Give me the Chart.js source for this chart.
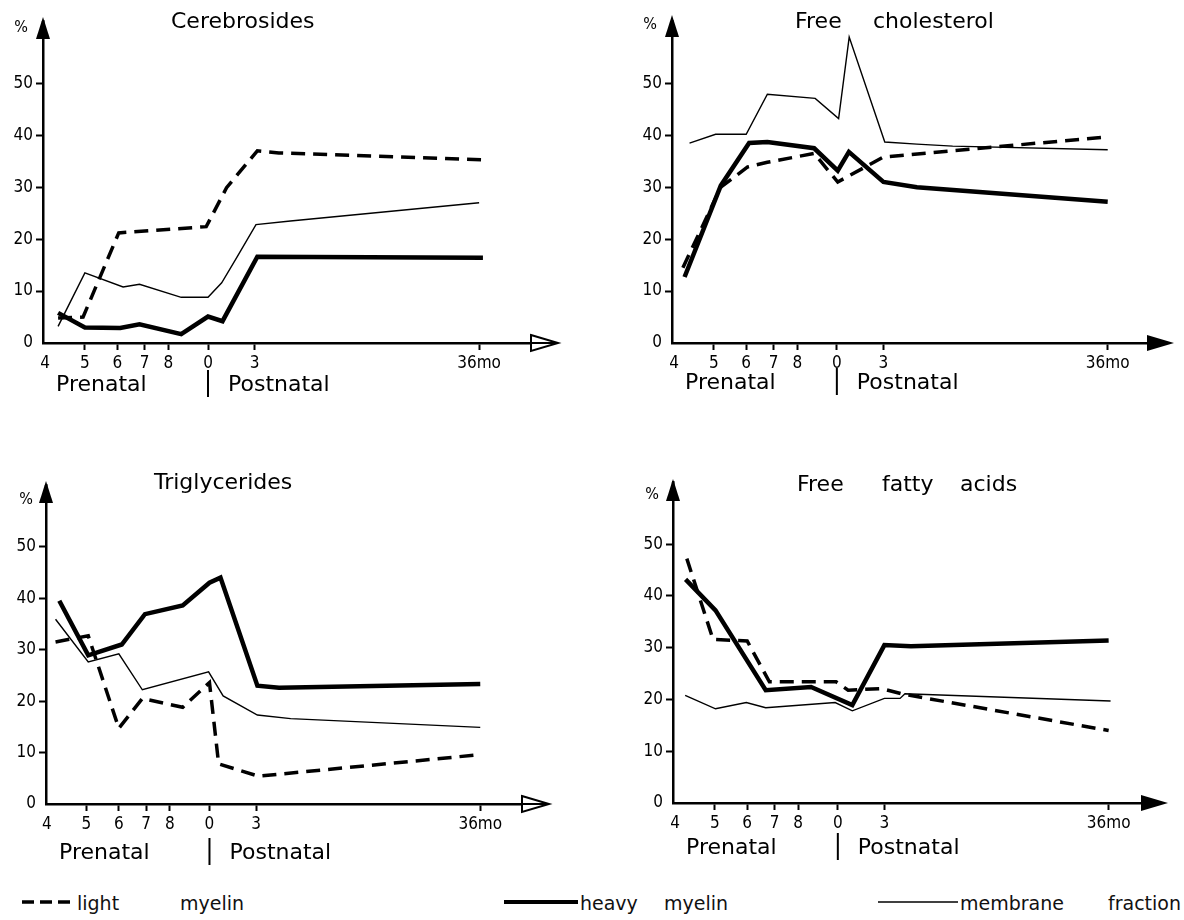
<!DOCTYPE html>
<html>
<head>
<meta charset="utf-8">
<script src="https://cdn.jsdelivr.net/npm/chart.js@4.4.1/dist/chart.umd.min.js"></script>
<style>
  body { margin: 0; background: #fff; width: 1184px; height: 920px; position: relative; overflow: hidden; }
  canvas { position: absolute; }
  .leg { position: absolute; top: 892px; font: 19px 'DejaVu Sans', sans-serif; color: #111; line-height: 22px; white-space: nowrap; }
  .legline { position: absolute; top: 893px; }
</style>
</head>
<body>
<canvas id="c1" width="590" height="430" style="left:0;top:0"></canvas>
<canvas id="c2" width="594" height="430" style="left:590px;top:0"></canvas>
<canvas id="c3" width="590" height="440" style="left:0;top:440px"></canvas>
<canvas id="c4" width="594" height="440" style="left:590px;top:440px"></canvas>

<svg class="legline" style="left:22px" width="52" height="16"><line x1="0" y1="9" x2="52" y2="9" stroke="#000" stroke-width="3.5" stroke-dasharray="12 6"/></svg>
<div class="leg" style="left:77px">light</div><div class="leg" style="left:180px">myelin</div>
<svg class="legline" style="left:504px" width="74" height="16"><line x1="0" y1="9" x2="74" y2="9" stroke="#000" stroke-width="4"/></svg>
<div class="leg" style="left:580px">heavy</div><div class="leg" style="left:664px">myelin</div>
<svg class="legline" style="left:878px" width="80" height="16"><line x1="0" y1="9" x2="80" y2="9" stroke="#000" stroke-width="1.4"/></svg>
<div class="leg" style="left:960px">membrane</div><div class="leg" style="left:1108px">fraction</div>

<script>
// x axis: age in (lunar) months from conception, drawn on a log scale
const tickValues = [4, 5, 6, 7, 8, 10, 13, 46];
const tickLabels = ['4', '5', '6', '7', '8', '0', '3', '36mo'];
const yTickValues = [0, 10, 20, 30, 40, 50];

const seriesNames = ['light myelin', 'heavy myelin', 'membrane fraction'];
const panelTitles = [['Cerebrosides'], ['Free', 'cholesterol'], ['Triglycerides'], ['Free', 'fatty', 'acids']];
const prenatalText = 'Prenatal';
const postnatalText = 'Postnatal';
const unitText = '%';

// Cerebrosides
const cereLightAge = [4.3, 4.95, 6.05, 9.9, 11.1, 13.2, 14.9, 46.5];
const cereLightPct = [4.8, 5.0, 21.2, 22.4, 29.9, 37.0, 36.6, 35.3];
const cereHeavyAge = [4.3, 5.0, 6.1, 6.8, 8.6, 10.0, 10.85, 13.2, 47];
const cereHeavyPct = [5.8, 3.0, 2.9, 3.6, 1.7, 5.1, 4.2, 16.6, 16.4];
const cereMembAge = [4.3, 5.0, 6.2, 6.8, 8.6, 10.0, 10.8, 11.8, 13.1, 15.9, 46];
const cereMembPct = [3.2, 13.5, 10.8, 11.3, 8.8, 8.8, 11.6, 16.7, 22.8, 23.5, 27.0];

// Free cholesterol
const cholLightAge = [4.2, 5.2, 6.05, 6.76, 8.8, 10.05, 13.0, 46];
const cholLightPct = [14.5, 30.0, 33.9, 34.8, 36.5, 31.0, 35.8, 39.7];
const cholHeavyAge = [4.24, 5.2, 6.1, 6.76, 8.8, 10.05, 10.7, 13.0, 15.7, 46];
const cholHeavyPct = [12.7, 30.3, 38.5, 38.7, 37.5, 33.2, 36.8, 31.0, 30.0, 27.2];
const cholMembAge = [4.36, 5.05, 6.0, 6.76, 8.85, 10.1, 10.72, 13.1, 15.7, 19.2, 46];
const cholMembPct = [38.5, 40.2, 40.2, 47.9, 47.1, 43.2, 58.9, 38.7, 38.3, 37.9, 37.2];

// Triglycerides
const trigLightAge = [4.2, 5.05, 6.0, 6.85, 8.6, 10.0, 10.53, 13.2, 46];
const trigLightPct = [31.5, 32.7, 14.7, 20.5, 18.8, 23.6, 7.8, 5.4, 9.6];
const trigHeavyAge = [4.29, 5.05, 6.1, 6.95, 8.6, 10.0, 10.64, 13.1, 14.8, 46];
const trigHeavyPct = [39.5, 28.9, 31.0, 36.9, 38.6, 43.0, 44.0, 23.0, 22.6, 23.3];
const trigMembAge = [4.2, 5.05, 6.0, 6.85, 9.95, 10.8, 13.1, 15.8, 46];
const trigMembPct = [35.9, 27.6, 29.2, 22.2, 25.7, 21.0, 17.3, 16.6, 14.9];

// Free fatty acids
const ffaLightAge = [4.27, 4.95, 6.0, 6.8, 9.9, 10.6, 12.8, 14.5, 46];
const ffaLightPct = [47.2, 31.6, 31.3, 23.4, 23.4, 21.8, 22.1, 21.0, 14.0];
const ffaHeavyAge = [4.24, 5.02, 6.66, 8.6, 10.85, 13.0, 15.1, 46];
const ffaHeavyPct = [43.2, 37.2, 21.8, 22.4, 18.9, 30.5, 30.3, 31.4];
const ffaMembAge = [4.23, 5.02, 5.97, 6.66, 9.85, 10.85, 13.0, 14.2, 14.6, 46.5];
const ffaMembPct = [20.8, 18.2, 19.4, 18.4, 19.4, 17.8, 20.2, 20.2, 21.1, 19.7];

const panelSeries = [
    [[cereLightAge, cereLightPct], [cereHeavyAge, cereHeavyPct], [cereMembAge, cereMembPct]],
    [[cholLightAge, cholLightPct], [cholHeavyAge, cholHeavyPct], [cholMembAge, cholMembPct]],
    [[trigLightAge, trigLightPct], [trigHeavyAge, trigHeavyPct], [trigMembAge, trigMembPct]],
    [[ffaLightAge, ffaLightPct], [ffaHeavyAge, ffaHeavyPct], [ffaMembAge, ffaMembPct]]
];

// where each panel sits on the page (absolute px)
const panelLayout = [
    { id: 'c1', cx: 0, cy: 0, w: 590, h: 430, axisX: 43, top: 21, bottom: 343, right: 531,
      xMin: 3.95, xMax: 61.6, tipY: 17, open: true, titleX: [171], titleY: 22, pctX: 21, pctY: 28, bandY: 385 },
    { id: 'c2', cx: 590, cy: 0, w: 594, h: 430, axisX: 672, top: 21, bottom: 343, right: 1147,
      xMin: 3.95, xMax: 57.4, tipY: 15, open: false, titleX: [795, 873], titleY: 22, pctX: 650, pctY: 25, bandY: 383 },
    { id: 'c3', cx: 0, cy: 440, w: 590, h: 440, axisX: 46, top: 485, bottom: 804, right: 522,
      xMin: 3.98, xMax: 58.2, tipY: 481, open: true, titleX: [154], titleY: 483, pctX: 26, pctY: 500, bandY: 853 },
    { id: 'c4', cx: 590, cy: 440, w: 594, h: 440, axisX: 673, top: 482, bottom: 803, right: 1141,
      xMin: 3.95, xMax: 55.2, tipY: 479, open: false, titleX: [797, 882, 960], titleY: 485, pctX: 652, pctY: 495, bandY: 848 }
];

const styles = [
    { borderWidth: 3.5, borderDash: [14, 8] },
    { borderWidth: 4.5, borderDash: [] },
    { borderWidth: 1.4, borderDash: [] }
];

const tickFont = "'Liberation Sans Narrow', 'DejaVu Sans Condensed', sans-serif";
const textFont = "'DejaVu Sans', sans-serif";

const decor = {
    id: 'decor',
    afterDraw(chart, args, opts) {
        const L = opts.layout;
        const ctx = chart.ctx;
        const area = chart.chartArea;
        const xs = chart.scales.x;
        ctx.save();
        ctx.fillStyle = '#000';
        ctx.strokeStyle = '#000';

        // y arrow
        const tip = L.tipY - L.cy;
        ctx.beginPath();
        ctx.moveTo(area.left, tip);
        ctx.lineTo(area.left - 7, tip + 22);
        ctx.lineTo(area.left + 7, tip + 22);
        ctx.closePath();
        ctx.fill();
        ctx.lineWidth = 2.5;
        ctx.beginPath();
        ctx.moveTo(area.left, tip + 20);
        ctx.lineTo(area.left, area.top);
        ctx.stroke();

        // x arrow
        const by = area.bottom, rx = area.right;
        ctx.beginPath();
        ctx.moveTo(rx, by - 8);
        ctx.lineTo(rx + 27, by);
        ctx.lineTo(rx, by + 8);
        ctx.closePath();
        if (L.open) {
            ctx.lineWidth = 2;
            ctx.stroke();
            ctx.beginPath();
            ctx.moveTo(rx, by);
            ctx.lineTo(rx + 26, by);
            ctx.stroke();
        } else {
            ctx.fill();
        }

        ctx.textBaseline = 'middle';
        ctx.font = '16px ' + tickFont;
        ctx.textAlign = 'center';
        ctx.fillText(unitText, L.pctX - L.cx, L.pctY - L.cy);

        ctx.textAlign = 'left';
        ctx.font = '22px ' + textFont;
        opts.title.forEach((w, i) => ctx.fillText(w, L.titleX[i] - L.cx, L.titleY - L.cy));

        const band = L.bandY - L.cy;
        const birth = xs.getPixelForValue(tickValues[tickLabels.indexOf('0')]);
        ctx.fillText(prenatalText, area.left + 13, band);
        ctx.fillText(postnatalText, birth + 20, band);
        ctx.lineWidth = 2;
        ctx.beginPath();
        ctx.moveTo(birth, band - 15);
        ctx.lineTo(birth, band + 12);
        ctx.stroke();
        ctx.restore();
    }
};

panelLayout.forEach((L, p) => {
    const datasets = panelSeries[p].map((s, k) => ({
        label: seriesNames[k],
        data: s[0].map((a, i) => ({ x: a, y: s[1][i] })),
        borderColor: '#000',
        borderWidth: styles[k].borderWidth,
        borderDash: styles[k].borderDash,
        pointRadius: 0,
        tension: 0,
        fill: false
    }));

    new Chart(document.getElementById(L.id), {
        type: 'line',
        data: { datasets: datasets },
        options: {
            responsive: false,
            animation: false,
            devicePixelRatio: 1,
            layout: { padding: { left: 0, top: L.top - L.cy, right: L.w - (L.right - L.cx), bottom: 0 } },
            plugins: {
                legend: { display: false },
                tooltip: { enabled: false },
                decor: { layout: L, title: panelTitles[p] }
            },
            scales: {
                x: {
                    type: 'logarithmic',
                    min: L.xMin,
                    max: L.xMax,
                    afterBuildTicks: s => { s.ticks = tickValues.map(v => ({ value: v })); },
                    afterFit: s => { s.height = L.h - (L.bottom - L.cy); },
                    ticks: {
                        autoSkip: false, maxRotation: 0, minRotation: 0, padding: 3, color: '#000',
                        font: { family: tickFont, size: 17 },
                        callback: (v, i) => tickLabels[i]
                    },
                    grid: {
                        drawOnChartArea: false, tickLength: 7, tickWidth: 2,
                        tickColor: c => (c.tick && c.tick.value === 4) ? 'rgba(0,0,0,0)' : '#000'
                    },
                    border: { color: '#000', width: 2.5 }
                },
                y: {
                    type: 'linear',
                    min: 0,
                    max: 62,
                    afterBuildTicks: s => { s.ticks = yTickValues.map(v => ({ value: v })); },
                    afterFit: s => { s.width = L.axisX - L.cx; },
                    ticks: { padding: 3, color: '#000', font: { family: tickFont, size: 17 } },
                    grid: {
                        drawOnChartArea: false, tickLength: 7, tickWidth: 2,
                        tickColor: c => (c.tick && c.tick.value === 0) ? 'rgba(0,0,0,0)' : '#000'
                    },
                    border: { color: '#000', width: 2.5 }
                }
            }
        },
        plugins: [decor]
    });
});
</script>
</body>
</html>
